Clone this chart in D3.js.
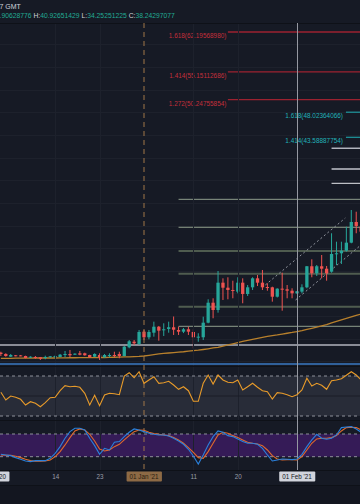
<!DOCTYPE html>
<html><head><meta charset="utf-8">
<script src="https://cdn.jsdelivr.net/npm/d3@7/dist/d3.min.js"></script>
<style>
html,body{margin:0;padding:0;background:#161a25;overflow:hidden;}
svg{display:block;font-family:"Liberation Sans",Arial,sans-serif;}
</style></head><body>
<svg id="c" width="360" height="504"></svg>
<script>
// ---------- DATA ----------
const startDay = new Date(Date.UTC(2020, 11, 3));
const endDay = new Date(Date.UTC(2021, 1, 15));
const days = d3.utcDay.range(startDay, endDay); // Dec 3 .. Feb 14 (74 daily candles)

const open = [5.53,5.30,4.82,5.07,5.05,4.94,4.64,4.77,4.72,4.59,
  4.72,4.72,4.77,5.12,5.30,5.17,5.42,5.42,5.12,4.82,
  5.12,4.72,5.07,5.12,5.30,4.94,6.48,7.47,7.07,9.24,
  8.25,9.06,10.12,9.63,9.72,10.02,9.54,9.24,9.66,9.19,
  8.25,8.25,10.83,14.36,13.07,17.90,17.01,16.61,16.31,17.90,
  15.90,17.08,18.67,17.90,17.13,17.08,15.42,16.84,16.73,16.48,
  16.02,16.31,17.08,20.80,19.56,20.80,20.37,19.84,23.05,23.09,
  23.55,24.97,28.62,27.79];
const high = [5.70,5.42,5.30,5.12,5.12,5.00,4.89,4.94,4.77,5.00,
  4.94,5.07,5.30,5.83,6.01,5.42,5.83,5.53,5.17,5.42,
  5.42,5.30,5.42,5.70,5.70,6.71,7.77,7.77,9.54,9.54,
  9.54,11.01,10.25,10.72,11.01,11.92,10.12,9.89,10.12,9.66,
  8.96,11.89,14.96,15.14,19.96,18.67,18.85,18.25,18.85,18.67,
  17.49,18.85,19.26,20.14,17.79,17.19,16.91,19.66,17.49,16.91,
  16.43,17.61,20.85,22.03,21.02,22.79,20.85,26.63,25.14,25.14,
  27.79,30.74,30.44,28.62];
const low = [4.94,4.82,4.77,4.89,4.89,4.54,4.59,4.47,4.24,4.36,
  4.64,4.64,4.72,4.72,4.72,5.12,5.07,5.00,4.64,4.77,
  4.24,4.64,4.72,4.72,4.54,4.89,6.31,6.89,6.89,7.77,
  7.89,8.36,7.65,8.48,9.06,8.66,8.66,8.99,8.66,6.31,
  7.47,7.77,10.72,11.61,12.60,14.84,14.96,15.14,16.02,14.26,
  15.55,16.61,17.31,16.61,16.48,14.54,15.28,12.95,15.14,15.14,
  15.90,16.02,16.91,18.85,19.08,18.67,18.25,19.66,21.02,21.20,
  23.38,24.86,26.63,26.15];
const close = [5.30,4.94,5.12,4.94,4.95,4.59,4.82,4.59,4.47,4.77,
  4.89,4.94,5.17,5.30,5.07,5.35,5.17,5.07,4.72,5.30,
  4.72,5.12,5.12,5.07,4.94,6.59,7.54,7.19,9.19,8.25,
  9.19,10.12,9.42,9.66,10.02,9.59,9.24,9.66,9.24,8.25,
  8.36,10.83,14.36,13.07,17.90,17.01,16.61,16.48,17.90,15.90,
  17.08,18.67,17.90,17.08,17.08,15.42,16.84,16.78,16.48,16.02,
  16.38,17.08,20.80,19.56,20.80,20.37,19.56,22.97,23.09,23.55,
  24.97,28.62,27.92,26.91];
const ma = [4.54,4.54,4.54,4.56,4.56,4.57,4.57,4.59,4.59,4.59,
  4.59,4.59,4.61,4.61,4.63,4.63,4.64,4.64,4.66,4.66,
  4.68,4.68,4.70,4.72,4.73,4.77,4.79,4.82,4.86,4.94,
  5.07,5.19,5.30,5.39,5.47,5.55,5.62,5.69,5.79,5.88,
  5.97,6.09,6.22,6.36,6.48,6.68,6.89,7.10,7.31,7.51,
  7.70,7.90,8.07,8.25,8.41,8.55,8.67,8.81,8.96,9.10,
  9.26,9.43,9.64,9.84,10.03,10.25,10.49,10.78,11.04,11.31,
  11.57,11.84,12.10,12.37];
const rsi = [53.7,46.0,50.0,48.7,46.7,41.0,44.3,42.7,39.3,43.3,
  48.3,48.7,55.3,60.3,59.3,59.7,58.7,52.7,41.0,50.7,
  40.3,51.0,52.7,52.3,51.3,70.0,73.3,68.3,74.3,62.7,
  66.0,69.3,62.7,63.3,64.7,61.0,56.7,59.3,55.3,44.7,
  44.7,62.7,71.0,62.0,71.0,66.0,63.7,63.3,66.0,56.0,
  59.3,62.7,58.7,55.3,54.3,47.0,53.3,52.7,51.3,49.3,
  51.3,56.0,67.7,60.0,62.7,60.7,56.7,65.3,66.0,67.3,
  70.7,74.3,71.0,66.0];
const stochK = [26.4,24.6,22.8,17.5,13.1,8.7,7.0,9.6,9.6,9.6,
  15.8,29.0,46.6,68.7,86.3,95.1,95.1,90.7,68.7,49.3,
  26.4,42.2,37.8,58.1,59.9,73.1,84.6,93.4,90.7,86.3,
  81.9,79.3,77.5,77.5,74.9,68.7,61.6,52.8,39.6,22.0,
  0.5,24.6,51.1,73.1,88.1,84.6,75.7,73.1,66.9,59.9,
  55.5,55.5,52.8,42.2,24.6,8.7,11.4,14.0,13.1,12.3,
  14.0,26.4,46.6,64.3,79.3,68.7,66.1,68.7,77.5,96.9,
  98.7,99.6,93.4,84.6];
const stochD = [24.6,23.7,23.7,21.1,17.5,13.1,9.6,7.8,7.8,8.7,
  11.4,20.2,33.4,51.1,70.5,88.1,93.4,90.7,79.3,61.6,
  40.5,35.2,37.8,46.6,52.8,64.3,75.7,86.3,90.7,89.9,
  84.6,81.0,79.3,77.5,75.7,70.5,64.3,55.5,44.0,31.7,
  17.5,15.8,33.4,55.5,77.5,84.6,81.9,75.7,70.5,64.3,
  58.1,55.5,53.7,49.3,37.8,22.8,14.0,11.4,12.3,12.3,
  11.4,20.2,37.8,55.5,66.9,68.7,68.7,70.5,75.7,88.1,
  96.9,97.8,96.9,90.7];

const fibRedLabels = ["1.618(62.19568980)","1.414(55.15112686)","1.272(50.24755854)"];
const fibRedValues = [62.19568980, 55.15112686, 50.24755854];
const fibTealLabels = ["1.618(48.02364066)","1.414(43.58887754)"];
const fibTealValues = [48.02364066, 43.58887754];
const levelValues = [32.63, 27.69, 23.50, 19.49, 13.66, 10.19];
const levelHeavy  = [false, false, true, true, true, false];
const rightLevelValues = [41.65, 37.99, 35.46];
const supportValue = 6.89;
const blueValue = 3.53;
const channelUpper = [["2021-01-25T14:00Z",17.49],["2021-02-10T19:00Z",29.33]];
const channelLower = [["2021-01-31T17:00Z",14.84],["2021-02-13T17:00Z",24.38]];
const tickDates = ["2020-12-14","2020-12-23","2021-01-11","2021-01-20"];
const tickLabels = ["14","23","11","20"];
const markerDates = ["2020-12-01","2021-01-01","2021-02-01"];
const markerLabels = ["01 Dec '20","01 Jan '21","01 Feb '21"];
const headerTitle = "7 GMT";
const headerParts = [["",".90628776"],["H:","40.92651429"],["L:","34.25251225"],["C:","38.24297077"]];

// ---------- LAYOUT ----------
const W = 360, H = 504;
const mainTop = 23, mainBot = 366, rsiBot = 420, stBot = 470, axBot = 485;
const svg = d3.select("#c");
const x = d3.scaleUtc().domain([new Date(Date.UTC(2021,0,1)), new Date(Date.UTC(2021,1,1))]).range([144, 297]);
const y = d3.scaleLinear().domain([3.175, 63.786]).range([mainBot, mainTop]);
const yR = d3.scaleLinear().domain([30, 70]).range([416, 376]);
const yS = d3.scaleLinear().domain([20, 80]).range([456.7, 434]);
const pd = s => new Date(s.length === 10 ? s + "T00:00:00Z" : s);

const C = {bg:"#161a25", grid:"#1d212c", teal:"#26a69a", red:"#ef5350", text:"#b2b5be"};

svg.append("rect").attr("width",W).attr("height",H).attr("fill",C.bg);
svg.append("rect").attr("x",0).attr("y",axBot).attr("width",W).attr("height",H-axBot).attr("fill","#131620");

const defs = svg.append("defs");
defs.append("clipPath").attr("id","cm").append("rect").attr("x",0).attr("y",mainTop).attr("width",W).attr("height",mainBot-mainTop);
defs.append("clipPath").attr("id","cr").append("rect").attr("x",0).attr("y",mainBot).attr("width",W).attr("height",rsiBot-mainBot);
defs.append("clipPath").attr("id","cs").append("rect").attr("x",0).attr("y",rsiBot).attr("width",W).attr("height",stBot-rsiBot);

// RSI pane background band
svg.append("rect").attr("x",0).attr("y",yR(70)).attr("width",W).attr("height",yR(30)-yR(70)).attr("fill","#282c38");
// Stoch band
svg.append("rect").attr("x",0).attr("y",yS(80)).attr("width",W).attr("height",yS(20)-yS(80)).attr("fill","#351b57");

// grid
const gMain = svg.append("g").attr("clip-path","url(#cm)");
gMain.selectAll("line.hg").data(d3.range(4, 64, 4)).join("line")
  .attr("x1",0).attr("x2",W).attr("y1",d=>Math.round(y(d))+0.5).attr("y2",d=>Math.round(y(d))+0.5)
  .attr("stroke",C.grid).attr("stroke-width",1);
svg.selectAll("line.vg").data(tickDates).join("line")
  .attr("x1",d=>Math.round(x(pd(d)))+0.5).attr("x2",d=>Math.round(x(pd(d)))+0.5)
  .attr("y1",mainTop).attr("y2",stBot).attr("stroke",C.grid).attr("stroke-width",1);

// pane separators
[mainTop, mainBot, rsiBot, stBot, axBot].forEach(v=>{
  svg.append("line").attr("x1",0).attr("x2",W).attr("y1",v+0.5).attr("y2",v+0.5).attr("stroke","#0e1118").attr("stroke-width",1);
});

// horizontal levels (main pane)
gMain.selectAll("line.lvl").data(levelValues).join("line")
  .attr("x1",x(pd("2021-01-08"))).attr("x2",W)
  .attr("y1",d=>y(d)).attr("y2",d=>y(d))
  .attr("stroke",(d,i)=>levelHeavy[i]?"#4f5c4f":"#8f9e8c")
  .attr("stroke-width",(d,i)=>levelHeavy[i]?2:1);

gMain.append("line").attr("x1",0).attr("x2",W).attr("y1",y(supportValue)).attr("y2",y(supportValue))
  .attr("stroke","#b2b5be").attr("stroke-width",1.4);
svg.append("line").attr("x1",0).attr("x2",W).attr("y1",y(blueValue)).attr("y2",y(blueValue))
  .attr("stroke","#3a78c2").attr("stroke-width",1.3);

// right white levels
const rlW = [1.5, 2, 1], rlC = ["#b2b5be","#9598a1","#e8eaee"];
gMain.selectAll("line.rl").data(rightLevelValues).join("line")
  .attr("x1",x(pd("2021-02-08"))).attr("x2",W)
  .attr("y1",d=>y(d)).attr("y2",d=>y(d))
  .attr("stroke",(d,i)=>rlC[i]).attr("stroke-width",(d,i)=>rlW[i]);

// fib red
gMain.selectAll("line.fr").data(fibRedValues).join("line")
  .attr("x1",x(pd("2021-01-18"))).attr("x2",W)
  .attr("y1",d=>y(d)).attr("y2",d=>y(d)).attr("stroke","#9c2230").attr("stroke-width",1.4);
gMain.selectAll("text.fr").data(fibRedValues).join("text")
  .attr("x",x(pd("2021-01-18"))-1.5).attr("y",d=>y(d)+6)
  .attr("text-anchor","end").attr("font-size",6.4).attr("fill","#c42f3b")
  .text((d,i)=>fibRedLabels[i]);
// fib teal
gMain.selectAll("line.ft").data(fibTealValues).join("line")
  .attr("x1",x(pd("2021-02-10T22:00Z"))).attr("x2",W)
  .attr("y1",d=>y(d)).attr("y2",d=>y(d)).attr("stroke","#1f9aa0").attr("stroke-width",1.2);
gMain.selectAll("text.ft").data(fibTealValues).join("text")
  .attr("x",x(pd("2021-02-10T22:00Z"))-3).attr("y",d=>y(d)+6)
  .attr("text-anchor","end").attr("font-size",6.4).attr("fill","#22b3b8")
  .text((d,i)=>fibTealLabels[i]);

// channel
[channelUpper, channelLower].forEach(ch=>{
  gMain.append("line")
    .attr("x1",x(pd(ch[0][0]))).attr("y1",y(ch[0][1]))
    .attr("x2",x(pd(ch[1][0]))).attr("y2",y(ch[1][1]))
    .attr("stroke","#8f939d").attr("stroke-width",1).attr("stroke-dasharray","2,2.5");
});

// vertical marker lines
svg.append("line").attr("x1",x(pd(markerDates[1]))).attr("x2",x(pd(markerDates[1])))
  .attr("y1",mainTop).attr("y2",stBot).attr("stroke","#a07648").attr("stroke-width",1).attr("stroke-dasharray","5,4");
svg.append("line").attr("x1",Math.round(x(pd(markerDates[2])))+0.5).attr("x2",Math.round(x(pd(markerDates[2])))+0.5)
  .attr("y1",mainTop).attr("y2",stBot).attr("stroke","#9598a1").attr("stroke-width",1);

// MA line
gMain.append("path").datum(days.map((d,i)=>[d,ma[i]]))
  .attr("d",d3.line().x(d=>x(d[0])).y(d=>y(d[1])))
  .attr("fill","none").attr("stroke","#b8802c").attr("stroke-width",1.3);

// candles
const bw = 3.3;
const cg = gMain.selectAll("g.candle").data(days.map((d,i)=>({d,o:open[i],h:high[i],l:low[i],c:close[i]}))).join("g");
cg.append("line")
  .attr("x1",d=>x(d.d)).attr("x2",d=>x(d.d)).attr("y1",d=>y(d.h)).attr("y2",d=>y(d.l))
  .attr("stroke",d=>d.c>=d.o?C.teal:C.red).attr("stroke-width",1);
cg.append("rect")
  .attr("x",d=>x(d.d)-bw/2).attr("width",bw)
  .attr("y",d=>y(Math.max(d.o,d.c)))
  .attr("height",d=>Math.max(1, Math.abs(y(d.o)-y(d.c))))
  .attr("fill",d=>d.c>=d.o?C.teal:C.red);

// RSI
const gR = svg.append("g").attr("clip-path","url(#cr)");
[70,30].forEach(v=>gR.append("line").attr("x1",0).attr("x2",W).attr("y1",yR(v)).attr("y2",yR(v))
  .attr("stroke","#8e919b").attr("stroke-width",1).attr("stroke-dasharray","3,3"));
gR.append("line").attr("x1",0).attr("x2",W).attr("y1",yR(50)).attr("y2",yR(50)).attr("stroke","#1a1d26").attr("stroke-width",1);
gR.append("path").datum(days.map((d,i)=>[d,rsi[i]]))
  .attr("d",d3.line().x(d=>x(d[0])).y(d=>yR(d[1])))
  .attr("fill","none").attr("stroke","#e89b2a").attr("stroke-width",1.1);

// Stoch
const gS = svg.append("g").attr("clip-path","url(#cs)");
[80,20].forEach(v=>gS.append("line").attr("x1",0).attr("x2",W).attr("y1",yS(v)).attr("y2",yS(v))
  .attr("stroke","#8e919b").attr("stroke-width",1).attr("stroke-dasharray","3,3"));
gS.append("path").datum(days.map((d,i)=>[d,stochD[i]]))
  .attr("d",d3.line().x(d=>x(d[0])).y(d=>yS(d[1])))
  .attr("fill","none").attr("stroke","#e0692c").attr("stroke-width",1.1);
gS.append("path").datum(days.map((d,i)=>[d,stochK[i]]))
  .attr("d",d3.line().x(d=>x(d[0])).y(d=>yS(d[1])))
  .attr("fill","none").attr("stroke","#2a80dc").attr("stroke-width",1.1);

// time axis
const axisG = svg.append("g").attr("transform",`translate(0,${stBot})`)
  .call(d3.axisBottom(x).tickValues(tickDates.map(pd)).tickSize(0).tickPadding(0).tickFormat((d,i)=>tickLabels[i]));
axisG.select(".domain").remove();
axisG.selectAll("text").attr("font-size",6.3).attr("fill","#9a9ea8").attr("font-family","Liberation Sans, Arial, sans-serif")
  .attr("dy",0).attr("y",9.2);

// marker boxes
const boxFill = ["#d1d4dc","#8d6a45","#d1d4dc"], boxText = ["#131722","#2a1d10","#131722"];
markerDates.forEach((md,i)=>{
  const cx = x(pd(md));
  const g = svg.append("g");
  const t = g.append("text").attr("x",cx).attr("y",479.2).attr("text-anchor","middle")
    .attr("font-size",6.3).attr("fill",boxText[i]).text(markerLabels[i]);
  const bb = t.node().getBBox();
  g.insert("rect","text").attr("x",bb.x-3).attr("y",471.5).attr("width",bb.width+6).attr("height",10)
    .attr("rx",1).attr("fill",boxFill[i]);
});

// header
svg.append("text").attr("x",-0.5).attr("y",8.5).attr("font-size",7).attr("fill","#d1d4dc").text(headerTitle);
const ht = svg.append("text").attr("x",-0.5).attr("y",18).attr("font-size",6.75);
headerParts.forEach((p,i)=>{
  if (p[0]) ht.append("tspan").attr("fill","#d1d4dc").attr("dx", i>0?2:0).text(p[0]);
  ht.append("tspan").attr("fill","#22ab94").text(p[1]);
});
</script>
</body></html>
